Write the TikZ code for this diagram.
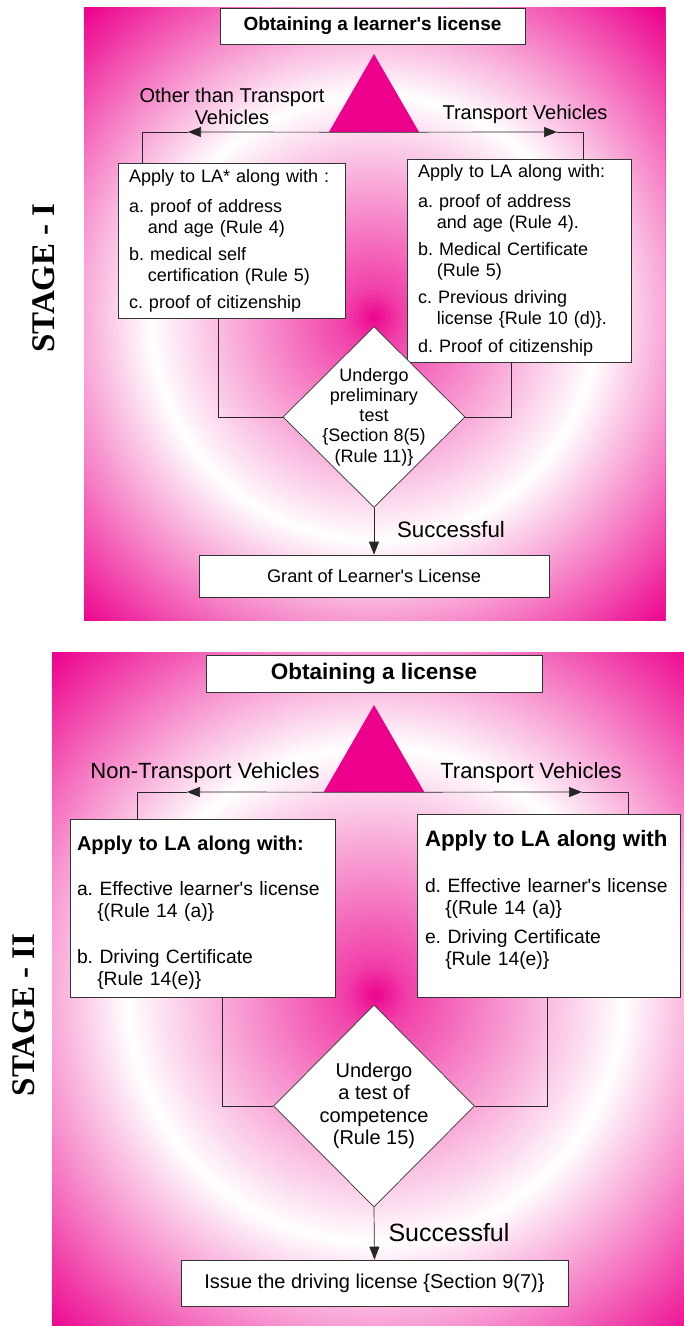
\documentclass[tikz,border=0pt]{standalone}
\usepackage{fontspec}
\setmainfont{Liberation Sans}
\newfontfamily\stagefont{Liberation Serif}
\usetikzlibrary{shapes.geometric,arrows.meta}
\definecolor{mag}{HTML}{EC008C}
\frenchspacing

\begin{document}
\begin{tikzpicture}[x=1pt,y=-1pt]
    \tikzstyle{hd}=[draw=black!80, fill=white, line width=0.7pt, inner sep=0pt, font=\bfseries];
    \tikzstyle{bx}=[draw=black!80, fill=white, line width=0.7pt, inner ysep=0pt, inner xsep=11pt, align=left];
    \tikzstyle{dm}=[diamond, draw=black!80, fill=white, line width=0.7pt, inner sep=0pt];
    \tikzstyle{tri}=[regular polygon, regular polygon sides=3, fill=mag, inner sep=0pt];
    \tikzstyle{ln}=[line width=0.7pt, black!85];
    \tikzstyle{arr}=[ln, -{Triangle[length=13pt,width=10pt]}];
    \tikzstyle{stg}=[rotate=90, font=\stagefont\bfseries\fontsize{33}{33}\selectfont];

    \useasboundingbox (0,0) rectangle (684,1326);

    % stage I background
    \begin{scope}
    \clip (84,7) rectangle (665,620);
    \foreach \r in {480,476,...,0} {
        \pgfmathsetmacro\p{\r<30 ? 100-\r*0.8333 : (\r<225 ? (225-\r)*0.3846 : min(100,(\r-225)*0.5))}
        \fill[mag!\p!white] (374,318) circle (\r pt);
    }
    \end{scope}
    % stage II background
    \begin{scope}
    \clip (52,652) rectangle (684,1326);
    \foreach \r in {540,536,...,0} {
        \pgfmathsetmacro\q{\r*0.9}
        \pgfmathsetmacro\p{\q<30 ? 100-\q*0.8333 : (\q<225 ? (225-\q)*0.3846 : min(100,(\q-225)*0.5))}
        \fill[mag!\p!white] (376,995) circle (\r pt);
    }
    \end{scope}

    \node (st1) at (44,278) [stg] {STAGE - I};
    \node (st2) at (24,1015) [stg] {STAGE - II};

    % stage I
    \node (t1) at (372.5,26) [hd, minimum width=305pt, minimum height=36pt, font=\bfseries\fontsize{19}{22}\selectfont] {Obtaining a learner\textquotesingle s license};
    \node (tr1) at (374,106) [tri, minimum size=104pt] {};
    \node (l1) at (232,106) [align=center, font=\fontsize{20}{22}\selectfont] {Other than Transport\\Vehicles};
    \node (l2) at (525,114) [font=\fontsize{20}{22}\selectfont] {Transport Vehicles};

    \node (bl1) at (231.5,240.5) [bx, text width=205pt, minimum height=155pt, font=\fontsize{18}{21}\selectfont]
        {Apply to LA* along with :\\[9pt]
         a. proof of address\\
         \hspace*{1.05em}and age (Rule 4)\\[6pt]
         b. medical self\\
         \hspace*{1.05em}certification (Rule 5)\\[6pt]
         c. proof of citizenship};
    \node (br1) at (519,260.5) [bx, text width=202pt, minimum height=203pt, font=\fontsize{18}{21}\selectfont]
        {Apply to LA along with:\\[9pt]
         a. proof of address\\
         \hspace*{1.05em}and age (Rule 4).\\[6pt]
         b. Medical Certificate\\
         \hspace*{1.05em}(Rule 5)\\[6pt]
         c. Previous driving\\
         \hspace*{1.05em}license \{Rule 10 (d)\}.\\[7pt]
         d. Proof of citizenship};

    \node (d1) at (374,417) [dm, minimum width=182pt, minimum height=181pt] {};
    \node (d1t) at (d1) [align=center, font=\fontsize{18}{20.3}\selectfont] {Undergo\\preliminary\\test\\\{Section 8(5)\\(Rule 11)\}};
    \node (g1) at (374,576) [hd, minimum width=350pt, minimum height=42pt, font=\fontsize{18.2}{22}\selectfont] {Grant of Learner\textquotesingle s License};
    \node (s1) at (451,530) [font=\fontsize{22.3}{26}\selectfont] {Successful};

    \coordinate (a1) at (188,132);
    \coordinate (a2) at (557,132);
    \coordinate (k1) at (142,132);
    \coordinate (k2) at (583,132);
    \coordinate (k3) at (218,417);
    \coordinate (k4) at (511,417);
    \draw[arr] (tr1.south) -- (a1);
    \draw[arr] (tr1.south) -- (a2);
    \draw[ln] (a1) -- (k1) -- (k1 |- bl1.north);
    \draw[ln] (a2) -- (k2) -- (k2 |- br1.north);
    \draw[ln] (k3 |- bl1.south) -- (k3) -- (d1.west);
    \draw[ln] (k4 |- br1.south) -- (k4) -- (d1.east);
    \draw[arr] (d1.south) -- (g1.north);

    % stage II
    \node (t2) at (374,673.5) [hd, minimum width=336pt, minimum height=37pt, font=\bfseries\fontsize{22.5}{26}\selectfont] {Obtaining a license};
    \node (tr2) at (374,763) [tri, minimum size=116pt] {};
    \node (l3) at (205,773) [font=\fontsize{22}{26}\selectfont] {Non-Transport Vehicles};
    \node (l4) at (531,773) [font=\fontsize{22}{26}\selectfont] {Transport Vehicles};

    \node (bl2) at (202.5,908) [bx, inner xsep=7pt, text width=251pt, minimum height=178pt, font=\fontsize{19.3}{22}\selectfont]
        {{\bfseries\fontsize{20}{24}\selectfont\rule{0pt}{24pt}Apply to LA along with:}\\[23pt]
         a. Effective learner\textquotesingle s license\\
         \hspace*{1.05em}\{(Rule 14 (a)\}\\[24pt]
         b. Driving Certificate\\
         \hspace*{1.05em}\{Rule 14(e)\}};
    \node (br2) at (548.5,905.5) [bx, inner xsep=8pt, text width=247pt, minimum height=183pt, font=\fontsize{19.3}{22}\selectfont]
        {{\bfseries\fontsize{22.3}{26}\selectfont Apply to LA along with}\\[24pt]
         d. Effective learner\textquotesingle s license\\
         \hspace*{1.05em}\{(Rule 14 (a)\}\\[7pt]
         e. Driving Certificate\\
         \hspace*{1.05em}\{Rule 14(e)\}\\[-6pt]\mbox{}};

    \node (d2) at (374,1106) [dm, minimum width=201pt, minimum height=202pt] {};
    \node (d2t) at (d2) [align=center, font=\fontsize{20}{22.5}\selectfont] {Undergo\\a test of\\competence\\(Rule 15)};
    \node (g2) at (374.5,1283) [hd, minimum width=387pt, minimum height=46pt, font=\fontsize{20}{24}\selectfont] {Issue the driving license \{Section 9(7)\}};
    \node (s2) at (449,1233) [font=\fontsize{25}{30}\selectfont] {Successful};

    \coordinate (a3) at (187,792);
    \coordinate (a4) at (582,792);
    \coordinate (k5) at (137,792);
    \coordinate (k6) at (628,792);
    \coordinate (k7) at (222,1106);
    \coordinate (k8) at (547,1106);
    \draw[arr] (tr2.south) -- (a3);
    \draw[arr] (tr2.south) -- (a4);
    \draw[ln] (a3) -- (k5) -- (k5 |- bl2.north);
    \draw[ln] (a4) -- (k6) -- (k6 |- br2.north);
    \draw[ln] (k7 |- bl2.south) -- (k7) -- (d2.west);
    \draw[ln] (k8 |- br2.south) -- (k8) -- (d2.east);
    \draw[arr] (d2.south) -- (g2.north);
\end{tikzpicture}
\end{document}
